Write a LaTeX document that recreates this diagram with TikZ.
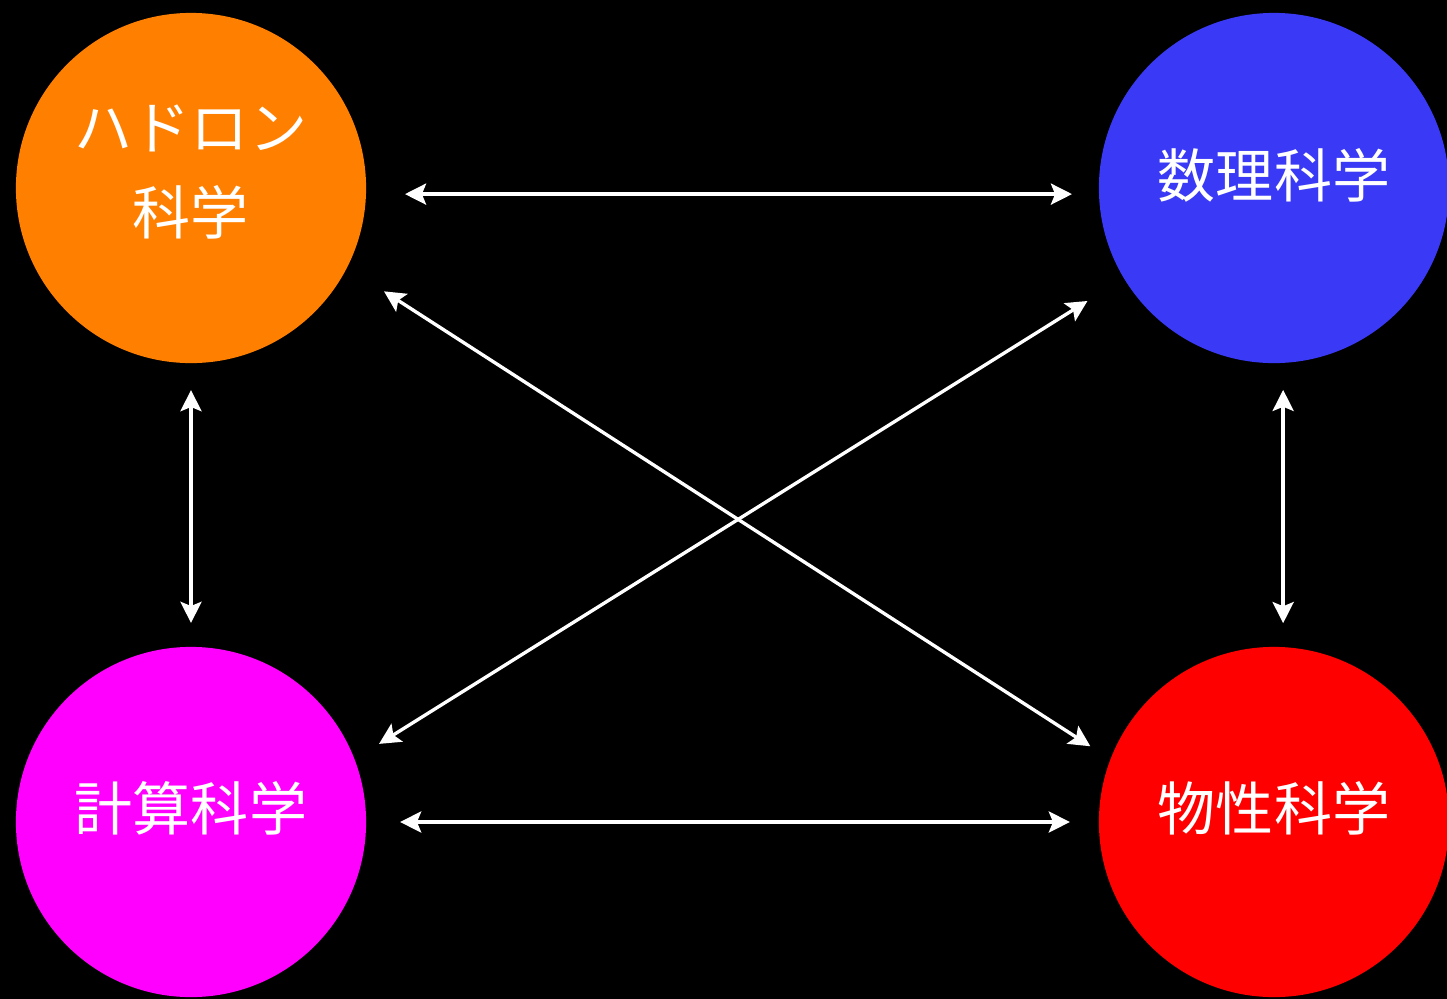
\documentclass[tikz,border=0pt]{standalone}
\usepackage{fontspec}
\newfontfamily\jpfont{Noto Sans CJK JP}
\usetikzlibrary{arrows.meta}
\definecolor{hadorange}{RGB}{255,128,0}
\definecolor{suublue}{RGB}{58,58,246}
\definecolor{keimagenta}{RGB}{255,0,255}
\definecolor{busred}{RGB}{255,0,0}
\tikzset{
  field/.style={circle,minimum size=3.5cm,inner sep=0pt,outer sep=0pt,text=white,font=\jpfont\fontsize{16.5}{24}\selectfont,align=center},
  link/.style={white,line width=0.95pt,{Stealth[length=6pt,width=6pt,inset=1.2pt]}-{Stealth[length=6pt,width=6pt,inset=1.2pt]}}
}
\begin{document}
\begin{tikzpicture}[x=0.01cm,y=-0.01cm]
  \fill [black] (0,0) rectangle (1447,999);
  \useasboundingbox (0,0) rectangle (1447,999);
  \node [field,fill=hadorange] (had) at (191,188) {};
  \node [field,fill=suublue] (suu) at (1274,188) {};
  \node [field,fill=keimagenta] (kei) at (191,822) {};
  \node [field,fill=busred] (bus) at (1274,822) {};
  \node [field,minimum size=0pt] (hadtxt) at (191,172) {ハドロン\\科学};
  \node [field,minimum size=0pt] (suutxt) at (1274,175) {数理科学};
  \node [field,minimum size=0pt] (keitxt) at (191,808) {計算科学};
  \node [field,minimum size=0pt] (bustxt) at (1274,808) {物性科学};
  % horizontal
  \draw [link,shorten <=0.39cm,shorten >=0.27cm] (had.-2) -- (suu.182);
  \draw [link,shorten <=0.34cm,shorten >=0.29cm] (kei.0) -- (bus.180);
  % vertical
  \draw [link,shorten <=0.27cm,shorten >=0.24cm] (had.-90) -- (kei.90);
  \draw [link,shorten <=0.27cm,shorten >=0.24cm] (suu.-87.7) -- (bus.87.7);
  % diagonal
  \draw [link,shorten <=0.44cm,shorten >=0.24cm] (had.-27.6) -- (bus.159.6);
  \draw [link,shorten <=0.43cm,shorten >=0.29cm] (suu.-149.3) -- (kei.21.7);
\end{tikzpicture}
\end{document}
